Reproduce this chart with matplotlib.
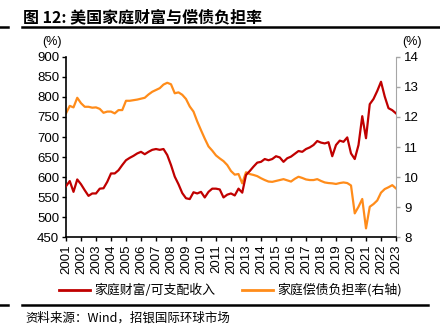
import numpy as np
import matplotlib.pyplot as plt
from matplotlib.lines import Line2D

plt.rcParams['font.family'] = ['Liberation Sans', 'Noto Sans CJK SC', 'DejaVu Sans']

# quarterly, 2001Q1 .. 2023Q1
wealth_income = [
    577, 590, 563, 594, 582, 567, 553, 559, 559, 571, 572, 588,
    609, 609, 617, 630, 642, 648, 653, 659, 663, 657, 663, 668,
    670, 668, 670, 655, 630, 601, 582, 560, 547, 545, 562, 559,
    563, 549, 563, 571, 571, 569, 549, 556, 559, 554, 571, 561,
    605, 615, 626, 636, 638, 645, 642, 645, 652, 649, 638, 647,
    651, 658, 665, 663, 670, 674, 680, 690, 686, 684, 687, 652,
    680, 691, 688, 699, 659, 645, 680, 752, 697, 782, 795, 815,
    838, 801, 772, 767, 759,
]
debt_service = [
    12.12, 12.37, 12.32, 12.64, 12.46, 12.34, 12.34, 12.31, 12.32, 12.27, 12.14, 12.18,
    12.18, 12.12, 12.23, 12.23, 12.54, 12.54, 12.56, 12.58, 12.61, 12.64, 12.75, 12.84,
    12.90, 12.96, 13.08, 13.14, 13.09, 12.79, 12.82, 12.74, 12.60, 12.35, 12.18, 11.85,
    11.56, 11.28, 11.02, 10.88, 10.72, 10.62, 10.53, 10.40, 10.20, 10.08, 10.10, 9.79,
    10.16, 10.10, 10.07, 10.03, 9.96, 9.90, 9.85, 9.84, 9.87, 9.90, 9.93, 9.89,
    9.85, 9.94, 10.01, 9.97, 9.92, 9.90, 9.90, 9.93, 9.87, 9.82, 9.80, 9.79,
    9.77, 9.80, 9.82, 9.80, 9.72, 8.79, 9.01, 9.27, 8.29, 9.01, 9.10, 9.22,
    9.48, 9.60, 9.66, 9.73, 9.62,
]
years = list(range(2001, 2024))
t = 2001 + np.arange(len(wealth_income)) / 4.0

red = '#C00000'
orange = '#FF8C1A'
cjk = ['Noto Sans CJK SC', 'DejaVu Sans']

fig = plt.figure(figsize=(4.4, 3.33), dpi=100)
ax = fig.add_axes([0.15, 0.288, 0.75, 0.541])
ax2 = ax.twinx()

ax.plot(t, wealth_income, color=red, lw=1.6, zorder=3)
ax2.plot(t, debt_service, color=orange, lw=1.6)
ax.set_zorder(ax2.get_zorder() + 1)
ax.patch.set_visible(False)

ax.set_xlim(2001, 2023)
ax.set_ylim(450, 900)
ax.set_yticks(range(450, 901, 50))
ax2.set_ylim(8, 14)
ax2.set_yticks(range(8, 15))
ax.set_xticks(years)
ax.set_xticklabels([str(y) for y in years], rotation=90)

for a in (ax, ax2):
    a.spines['top'].set_visible(False)
ax.spines['right'].set_visible(False)
ax2.spines['left'].set_visible(False)
ax2.spines['bottom'].set_visible(False)
ax2.spines['right'].set_color('#a6a6a6')
ax.spines['left'].set_linewidth(1.2)
ax.spines['bottom'].set_linewidth(1.2)

ax.tick_params(axis='both', labelsize=9.5, length=3, width=1, pad=2)
ax2.tick_params(axis='y', labelsize=9.5, length=3, width=1, color='#a6a6a6', pad=3)

fig.text(0.095, 0.865, '(%)', fontsize=9)
fig.text(0.915, 0.865, '(%)', fontsize=9)

# title and rules
fig.text(0.052, 0.948, '图 12: 美国家庭财富与偿债负担率', fontsize=11.5,
         fontweight='bold', va='center', family=cjk)
fig.add_artist(Line2D([0.05, 1.0], [0.918, 0.918], color='black', lw=1.8))
fig.add_artist(Line2D([0.0, 0.018], [0.918, 0.918], color='black', lw=1.8))
fig.add_artist(Line2D([0.05, 0.973], [0.084, 0.084], color='black', lw=1.8))
fig.add_artist(Line2D([0.0, 0.018], [0.084, 0.084], color='black', lw=1.8))
fig.text(0.057, 0.045, '资料来源：Wind，招银国际环球市场', fontsize=9,
         va='center', family=cjk)

# legend
fig.add_artist(Line2D([0.134, 0.205], [0.129, 0.129], color=red, lw=2))
fig.text(0.215, 0.129, '家庭财富/可支配收入', fontsize=9.3, va='center', family=cjk)
fig.add_artist(Line2D([0.55, 0.62], [0.129, 0.129], color=orange, lw=2))
fig.text(0.63, 0.129, '家庭偿债负担率(右轴)', fontsize=9.3, va='center', family=cjk)

fig.savefig('out.png', dpi=100)
